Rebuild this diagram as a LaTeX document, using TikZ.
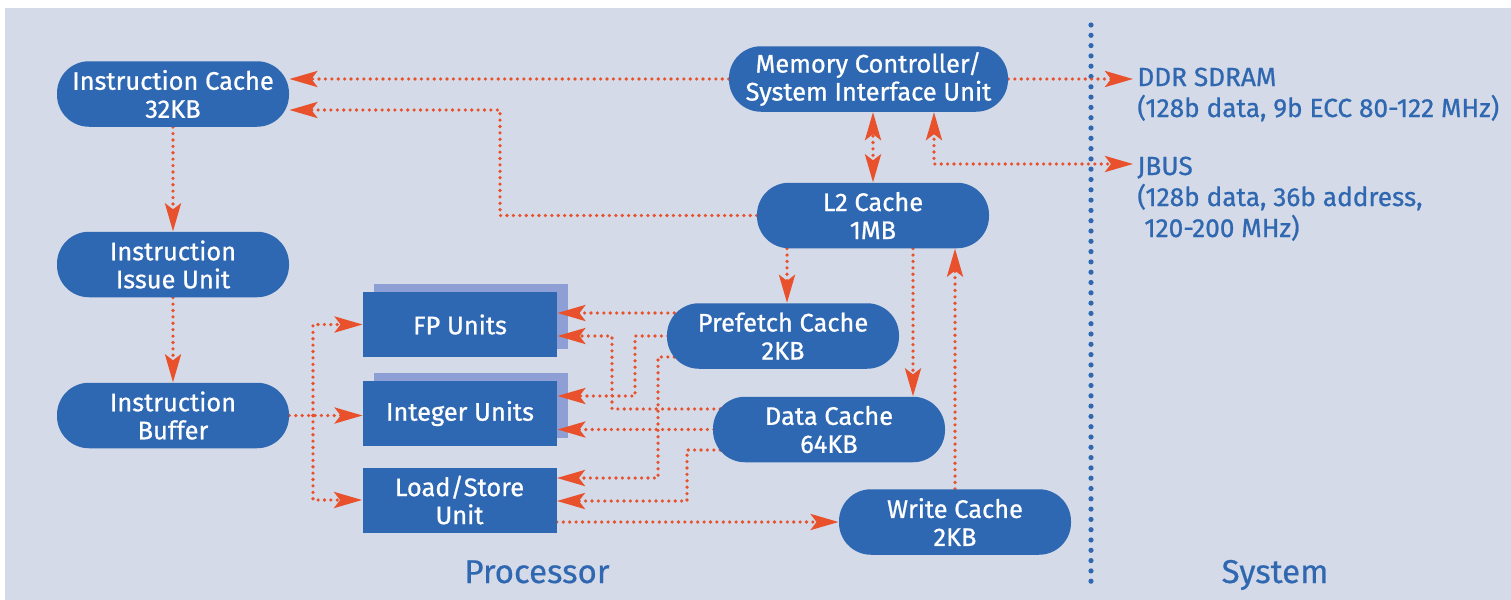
\documentclass[tikz,border=0pt]{standalone}
\usepackage{fontspec}
\setmainfont{Fira Sans}[FakeBold=0.5]
\newfontfamily\labelfont{Fira Sans}[FakeBold=0.8]
\usetikzlibrary{arrows.meta}
\definecolor{panelbg}{HTML}{D4DAE7}
\definecolor{nodeblue}{HTML}{2E68B2}
\definecolor{shadowblue}{HTML}{8E9FD5}
\definecolor{linkred}{HTML}{E8512B}
\definecolor{textblue}{HTML}{2F68B1}
\pgfdeclarelayer{panel}
\pgfdeclarelayer{links}
\pgfsetlayers{panel,links,main}
\begin{document}
\begin{tikzpicture}[x=0.5pt,y=-0.5pt,
  >={Stealth[length=14pt,width=8pt,inset=3pt]},
  nodefont/.style={font=\labelfont\fontsize{12.7}{14}\selectfont},
  pill/.style={nodefont, fill=nodeblue, rounded corners=16pt, minimum width=116pt,
    minimum height=32.75pt, text=white, align=center, inner sep=0pt},
  unitbox/.style={nodefont, fill=nodeblue, minimum width=97pt, minimum height=32.5pt,
    text=white, align=center, inner sep=0pt},
  shadebox/.style={fill=shadowblue, minimum width=97pt, minimum height=32.5pt, inner sep=0pt},
  link/.style={draw=linkred, line width=1.8pt, line cap=round, dash pattern=on 0pt off 3.2pt},
  sysline/.style={draw=textblue, line width=2.6pt, line cap=round, dash pattern=on 0pt off 5.15pt},
  rtext/.style={font=\labelfont\fontsize{13.1}{15}\selectfont, text=textblue, inner sep=0pt, anchor=base west},
  bigtext/.style={font=\fontsize{16.5}{19}\selectfont, text=textblue, inner sep=0pt, anchor=base}
]
\useasboundingbox (0,0) rectangle (1511,600);

% panel and shadows
\begin{pgfonlayer}{panel}
  \fill[panelbg] (5,8) rectangle (1511,600);
  \node[shadebox] (fpS) at (471,316.5) {};
  \node[shadebox] (intS) at (471,405.5) {};
\end{pgfonlayer}

% nodes
\node[pill] (ic) at (173,94) {Instruction Cache\\32KB};
\node[pill, minimum width=139.5pt] (mc) at (868.5,79) {Memory Controller/\\System Interface Unit};
\node[pill] (l2) at (873,215.5) {L2 Cache\\1MB};
\node[pill] (iu) at (173,264.5) {Instruction\\Issue Unit};
\node[pill] (ib) at (173,415.5) {Instruction\\Buffer};
\node[unitbox] (fp) at (460,324.5) {FP Units};
\node[unitbox] (int) at (460,413.5) {Integer Units};
\node[unitbox] (ls) at (459.5,500) {Load/Store\\Unit};
\node[pill] (pf) at (783,336) {Prefetch Cache\\2KB};
\node[pill] (dc) at (829,429.5) {Data Cache\\64KB};
\node[pill] (wc) at (955,522) {Write Cache\\2KB};

% right-hand texts
\node[rtext] (ddr) at (1137,86) {DDR SDRAM};
\node[rtext] (ddrd) at (1137,117) {(128b data, 9b ECC 80-122 MHz)};
\node[rtext] (jbus) at (1137,175) {JBUS};
\node[rtext] (jbd1) at (1137,206) {(128b data, 36b address,};
\node[rtext] (jbd2) at (1137,237) {\ 120-200 MHz)};

\node[bigtext] (proc) at (537,583) {Processor};
\node[bigtext] (sys) at (1275,583) {System};

% bend points
\coordinate (k2) at (500,110);
\coordinate (jb) at (934,164);
\coordinate (bx) at (313,415.5);
\coordinate (a1) at (612,409);
\coordinate (a2) at (612,336);
\coordinate (b1) at (635,336);
\coordinate (b2) at (635,396);
\coordinate (c1) at (676,313);
\coordinate (d1) at (658,357);
\coordinate (d2) at (658,478);
\coordinate (e1) at (687,450);
\coordinate (e2) at (687,501);
\coordinate (f1) at (787,0);
\coordinate (g1) at (913,0);

\begin{pgfonlayer}{links}
  \draw[sysline] (1091,25) -- (1091,584);
  \draw[link,->] (mc.west) -- (mc.west -| ic.east);
  \draw[link,->] (l2.west) -| (k2) -- (k2 -| ic.east);
  \draw[link,<->] (l2.north) -- (l2.north |- mc.south);
  \draw[link,<->] (mc.south -| jb) -- (jb) -- ([xshift=-2pt]jb -| jbus.west);
  \draw[link,->] (mc.east) -- ([xshift=-2pt]mc.east -| ddr.west);
  \draw[link,->] (ic.south) -- (iu.north);
  \draw[link,->] (iu.south) -- (ib.north);
  \draw[link,->] (ib.east) -- (ib.east -| int.west);
  \draw[link,->] (bx) |- (fp.west);
  \draw[link,->] (bx) |- (ls.west);
  \draw[link,->] (l2.south -| f1) -- (pf.north -| f1);
  \draw[link,->] (l2.south -| g1) -- (dc.north -| g1);
  \draw[link,->] (wc.north) -- (wc.north |- l2.south);
  \draw[link,->] (ls.east |- wc.west) -- (wc.west);
  \draw[link,->] (pf.center |- c1) -- (c1 -| fp.east);
  \draw[link,->] (dc.center |- a1) -- (a1) -- (a2) -- (a2 -| fp.east);
  \draw[link,->] (pf.center) -- (b1) -- (b2) -- (b2 -| int.east);
  \draw[link,->] (dc.center) -- (dc.center -| int.east);
  \draw[link,->] (pf.center |- d1) -- (d1) -- (d2) -- (d2 -| ls.east);
  \draw[link,->] (dc.center |- e1) -- (e1) -- (e2) -- (e2 -| ls.east);
\end{pgfonlayer}
\end{tikzpicture}
\end{document}
